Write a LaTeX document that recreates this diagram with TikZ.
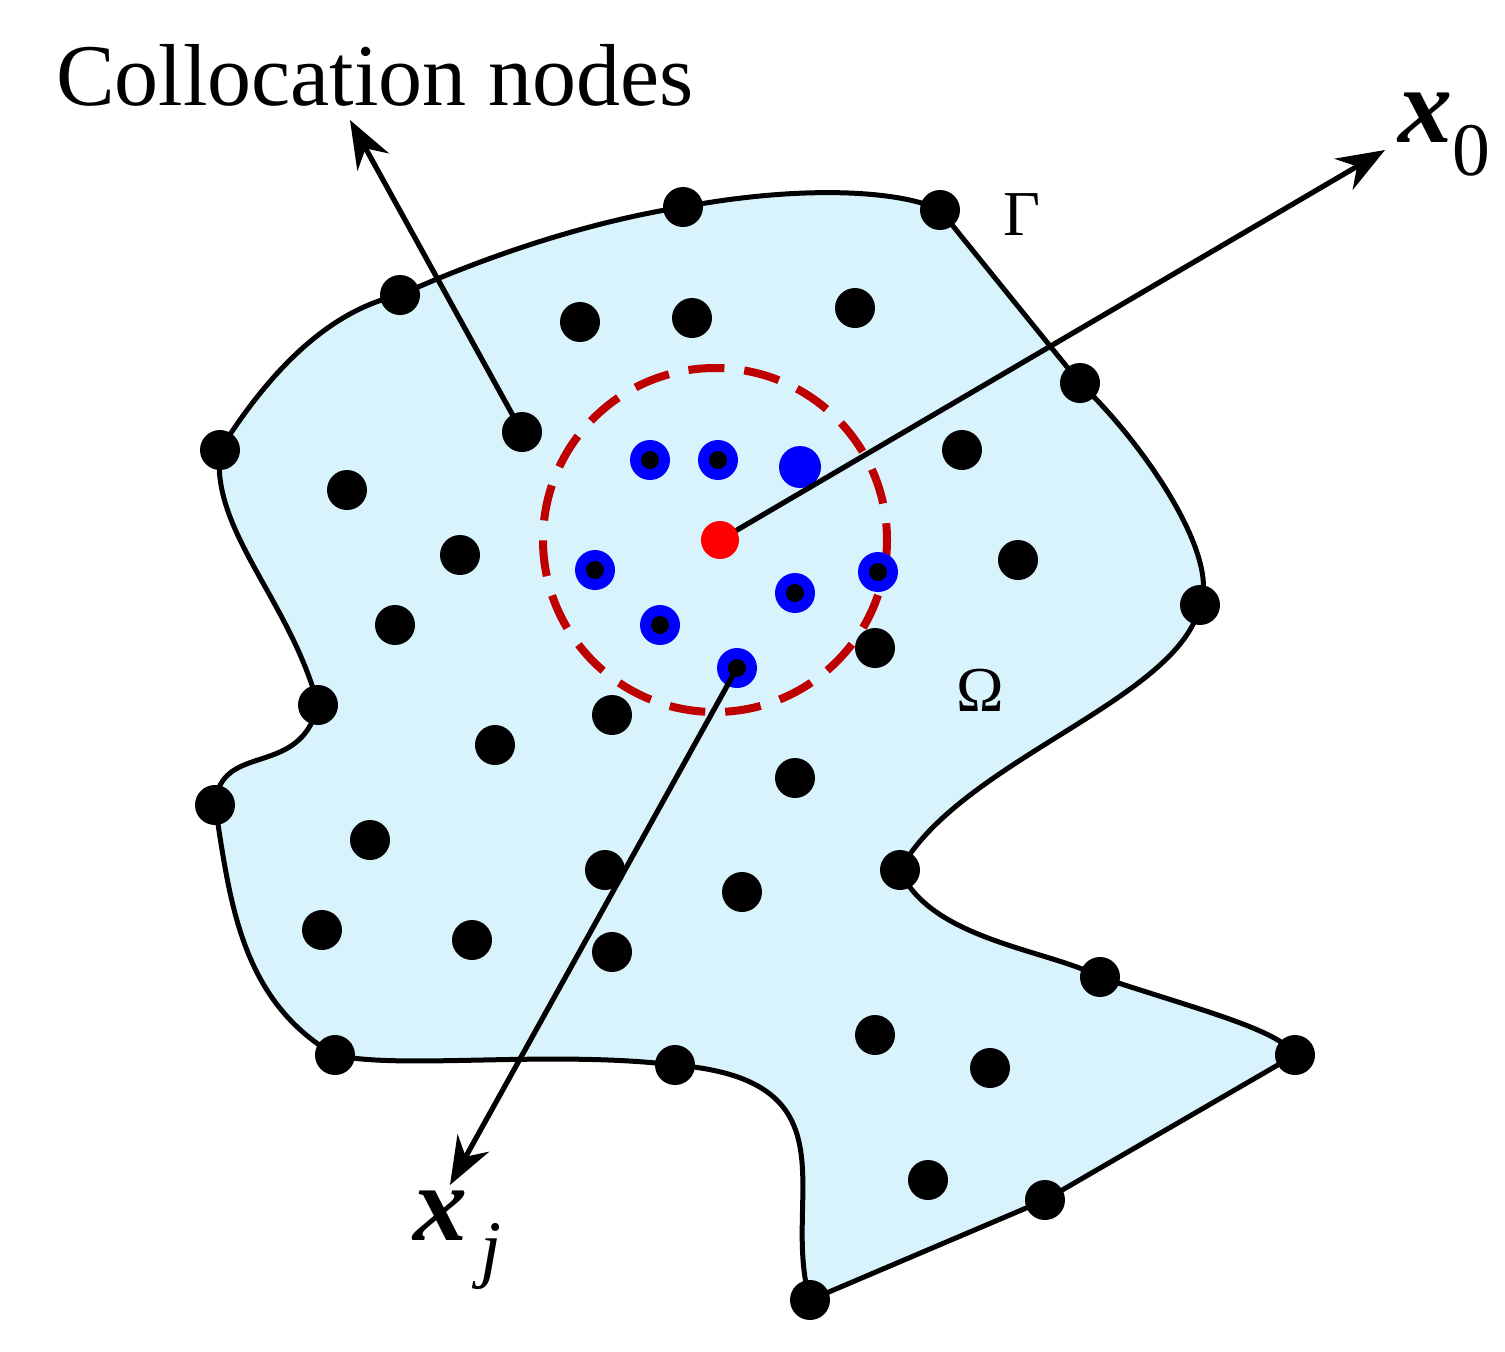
\documentclass[tikz,border=0pt]{standalone}
\usepackage{fontspec}
\setmainfont{Liberation Serif}
\usetikzlibrary{arrows.meta}
\begin{document}
\begin{tikzpicture}[x=0.5pt,y=-0.5pt,
 arr/.style={line width=2.6pt,-{Stealth[length=24pt,width=18pt]}},
 lbl/.style={font=\fontsize{44}{48}\selectfont},
 xl/.style={font=\fontsize{54}{58}\selectfont}]
\useasboundingbox (0,0) rectangle (1505,1351);
\filldraw[fill=cyan!15,line width=2.5pt] (683,207) .. controls (800,185) and (900,190) .. (940,210)
 -- (1080,383) .. controls (1150,450) and (1220,560) .. (1200,605)
 .. controls (1180,700) and (960,760) .. (900,870)
 .. controls (930,940) and (1050,950) .. (1100,977)
 .. controls (1200,1010) and (1280,1030) .. (1295,1055)
 -- (1045,1200) -- (810,1300)
 .. controls (780,1200) and (860,1080) .. (675,1065)
 .. controls (550,1050) and (400,1070) .. (335,1055)
 .. controls (240,1000) and (230,900) .. (215,805)
 .. controls (220,740) and (300,780) .. (318,705)
 .. controls (290,600) and (210,530) .. (220,450)
 .. controls (270,370) and (330,310) .. (400,295)
 .. controls (500,250) and (600,220) .. (683,207) -- cycle;
\draw[red!75!black,line width=4pt,dash pattern=on 18pt off 10pt] (715,540) ellipse [x radius=172, y radius=172];
\foreach \p in {(683,207),(940,210),(1080,383),(1200,605),(900,870),(1100,977),(1295,1055),(1045,1200),(810,1300),(675,1065),(335,1055),(215,805),(318,705),(220,450),(400,295),
(580,322),(692,318),(855,308),(522,432),(347,490),(460,555),(395,625),(962,450),(1018,560),(875,648),(612,715),(495,745),(795,778),(370,840),(605,870),(742,892),(322,930),(472,940),(612,952),(875,1035),(990,1068),(928,1180)}
 \fill \p circle (20);
\foreach \p in {(650,460),(718,460),(595,570),(660,625),(795,593),(878,572),(737,668)}
 {\fill[blue] \p circle (20); \fill \p circle (9);}
\fill[blue] (800,467) circle (21);
\coordinate (c0) at (720,540);
\coordinate (cj) at (737,668);
\coordinate (cn) at (522,432);
\coordinate (t0) at (1385,150);
\coordinate (tj) at (450,1185);
\coordinate (tn) at (350,120);
\draw[arr] (cn) -- (tn);
\draw[arr] (c0) -- (t0);
\draw[arr] (cj) -- (tj);
\fill[red] (c0) circle (19);
\node[lbl] (cl) at (375,75) {Collocation nodes};
\node[xl] (x0) at (1445,135) {\textbf{\textit{x}}\textsubscript{0}};
\node[xl] (xj) at (458,1240) {\textbf{\textit{x}}\textsubscript{\,\textit{j}}};
\node[font=\fontsize{32}{36}\selectfont] (G) at (1022,215) {Γ};
\node[font=\fontsize{32}{36}\selectfont] (O) at (980,690) {Ω};
\end{tikzpicture}
\end{document}
